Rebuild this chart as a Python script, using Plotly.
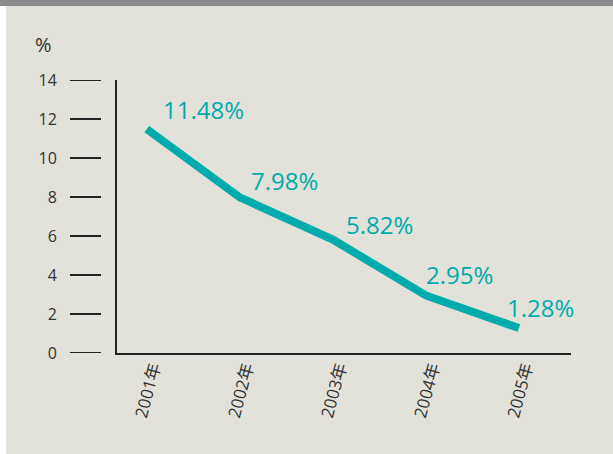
import plotly.graph_objects as go

years = ["2001年", "2002年", "2003年", "2004年", "2005年"]
rates = [11.48, 7.98, 5.82, 2.95, 1.28]
labels = ["11.48%", "7.98%", "5.82%", "2.95%", "1.28%"]
y_ticks = [0, 2, 4, 6, 8, 10, 12, 14]

# label offsets (style)
label_dx = [14, 9, 11, -2, -14]
label_dy = [20, 17, 15, 21, 21]

TEAL = "#00abab"
PANEL = "#e2e1da"
FONT = "Open Sans, Noto Sans CJK SC, sans-serif"

W, H = 613, 454
ML, MR, MT, MB = 117, 42, 80, 101
PW = W - ML - MR
PH = H - MT - MB

fig = go.Figure()
fig.add_trace(go.Scatter(
    x=years, y=rates, mode="lines",
    line=dict(color=TEAL, width=8),
    hoverinfo="skip", showlegend=False,
))

for x, y, t, dx, dy in zip(years, rates, labels, label_dx, label_dy):
    fig.add_annotation(x=x, y=y, text=t, showarrow=False,
                       xanchor="left", yanchor="middle",
                       xshift=dx, yshift=dy,
                       font=dict(family=FONT, size=24, color=TEAL))

shapes = []
# panel background
shapes.append(dict(type="rect", xref="paper", yref="paper", layer="below",
                   x0=(6 - ML) / PW, x1=(W - ML) / PW,
                   y0=-(MB + 5) / PH, y1=(PH + MT - 6) / PH,
                   fillcolor=PANEL, line=dict(width=0)))
# top bar
shapes.append(dict(type="rect", xref="paper", yref="paper", layer="below",
                   x0=-ML / PW - 0.05, x1=(W - ML) / PW + 0.05,
                   y0=(PH + MT - 6) / PH, y1=(PH + MT + 5) / PH,
                   fillcolor="#8b8b8b", line=dict(width=0)))
# detached tick dashes
for v in y_ticks:
    shapes.append(dict(type="line", xref="paper", yref="y",
                       x0=(70 - ML) / PW, x1=(101 - ML) / PW, y0=v, y1=v,
                       line=dict(color="#222222", width=2)))

fig.add_annotation(x=(43 - ML) / PW, y=(MT + PH - 44) / PH, xref="paper", yref="paper",
                   text="%", showarrow=False, xanchor="center", yanchor="middle",
                   font=dict(family=FONT, size=20, color="#333333"))

fig.update_layout(
    width=W, height=H,
    margin=dict(l=ML, r=MR, t=MT, b=MB, pad=0),
    paper_bgcolor="white", plot_bgcolor=PANEL,
    shapes=shapes,
    font=dict(family=FONT, color="#333333"),
    xaxis=dict(type="category", range=[-0.32, 4.56], showgrid=False, zeroline=False,
               showline=True, linecolor="#222222", linewidth=2, ticks="",
               tickangle=-75, ticklabelshift=6, ticklabelstandoff=-4,
               tickfont=dict(size=17, color="#333333")),
    yaxis=dict(range=[0, 14], tickvals=y_ticks, showgrid=False, zeroline=False,
               showline=True, linecolor="#222222", linewidth=2, ticks="",
               ticklabelstandoff=55, tickfont=dict(size=16, color="#333333")),
)

fig.write_html("out.html", config={"displayModeBar": False},
               post_script="document.body.style.margin='0';document.body.style.overflow='hidden';")
